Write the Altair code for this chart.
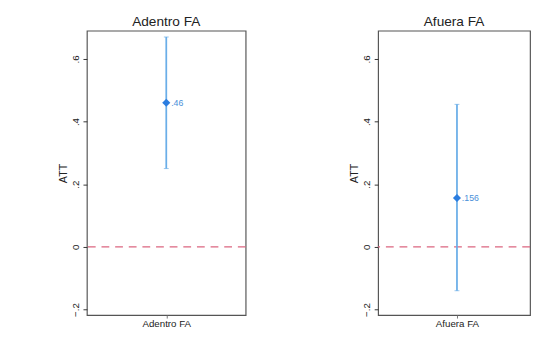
import altair as alt
import pandas as pd

panels = ["Adentro FA", "Afuera FA"]
att = [0.46, 0.156]
ci_low = [0.25, -0.14]
ci_high = [0.67, 0.455]
labels = [".46", ".156"]

df = pd.DataFrame({"panel": panels, "att": att, "lo": ci_low, "hi": ci_high, "label": labels})

Y_DOMAIN = [-0.218, 0.69]
Y_TICKS = [-0.2, 0, 0.2, 0.4, 0.6]

def panel_chart(name, width, align):
    d = df[df["panel"] == name]
    xscale = alt.Scale(type="point", align=align, padding=0.5)
    base = alt.Chart(d).encode(
        x=alt.X("panel:N", title=None, scale=xscale,
                axis=alt.Axis(labelAngle=0, labelFontSize=10, labelColor="#222",
                              tickColor="#777", tickSize=3, domain=False,
                              labelFont="Liberation Sans", labelPadding=1))
    )
    yscale = alt.Scale(domain=Y_DOMAIN, nice=False, zero=False)
    yaxis = alt.Axis(values=Y_TICKS, grid=False, domain=False, title="ATT",
                     labelExpr="datum.value == 0 ? '0' : replace(format(datum.value, '.1f'), '0.', '.')",
                     labelAngle=-90, labelAlign="center", labelBaseline="bottom",
                     labelFontSize=10, labelColor="#222", tickColor="#333", tickSize=4,
                     labelPadding=3, titleFontSize=11, titleFontWeight="normal",
                     titleColor="#222", titleFont="Liberation Sans", labelFont="Liberation Sans",
                     titlePadding=2)
    zero = alt.Chart(pd.DataFrame({"z": [0]})).mark_rule(
        color="#dc6680", strokeDash=[8, 6], strokeWidth=1.4
    ).encode(y=alt.Y("z:Q", scale=yscale, axis=yaxis))
    bar = base.mark_rule(color="#6aaee8", strokeWidth=1.8).encode(
        y=alt.Y("lo:Q", scale=yscale, axis=yaxis), y2="hi:Q")
    cap_lo = base.mark_tick(orient="horizontal", size=5, thickness=1, color="#6aaee8").encode(
        y=alt.Y("lo:Q", scale=yscale))
    cap_hi = base.mark_tick(orient="horizontal", size=5, thickness=1, color="#6aaee8").encode(
        y=alt.Y("hi:Q", scale=yscale))
    pt = base.mark_point(shape="diamond", filled=True, size=70, color="#2a7de0", opacity=1).encode(
        y=alt.Y("att:Q", scale=yscale))
    txt = base.mark_text(align="left", dx=5, fontSize=9, color="#4a90d9",
                         font="Liberation Sans").encode(
        y=alt.Y("att:Q", scale=yscale), text="label:N")
    return alt.layer(zero, bar, cap_lo, cap_hi, pt, txt).properties(
        width=width, height=292,
        title=alt.TitleParams(name, fontSize=14, fontWeight="normal", color="#222",
                              font="Liberation Sans", offset=2)
    )

chart = alt.hconcat(
    panel_chart(panels[0], 163, 0.5),
    panel_chart(panels[1], 156, 0.519),
    spacing=103,
).properties(
    padding={"left": 50, "top": 2, "right": 0, "bottom": 0}
).configure(background="white").configure_view(stroke="#555", strokeWidth=1.2)

chart.save("out.html", embed_options={"renderer": "svg", "actions": False})
